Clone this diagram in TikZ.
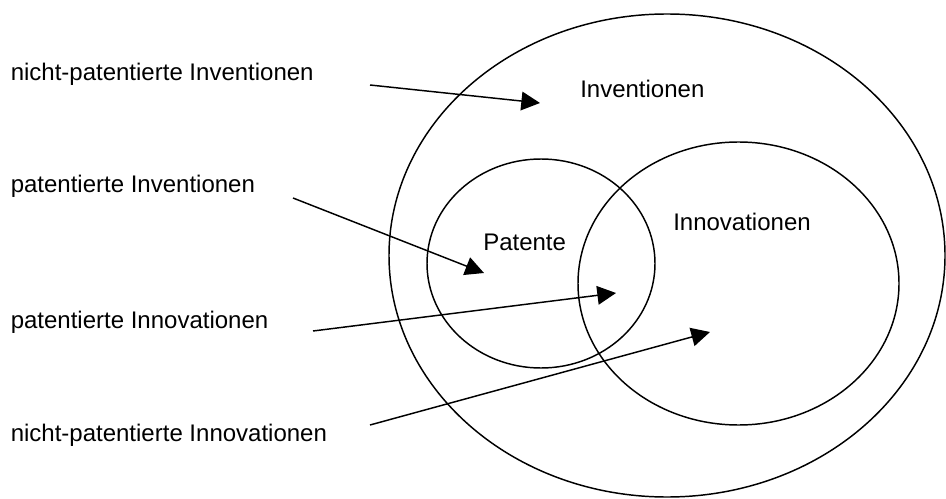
\documentclass[tikz,border=0pt]{standalone}
\usepackage{fontspec}
\setmainfont{Liberation Sans}
\usetikzlibrary{arrows.meta}

\tikzset{
  lbl/.style={anchor=base west,inner sep=0pt,font=\fontsize{18}{21}\selectfont},
  set/.style={line width=1.1pt},
  pfeil/.style={line width=1.1pt,-{Triangle[length=14pt,width=14pt]}}
}

\begin{document}
\begin{tikzpicture}[x=0.75pt,y=0.75pt,yscale=-1,xscale=1]
\useasboundingbox (0,0) rectangle (946,499);

%Shape: Ellipse [Inventionen]
\draw [set] (667,255.5) ellipse [x radius=278, y radius=241.5];
%Shape: Ellipse [Patente]
\draw [set] (541,263.5) ellipse [x radius=114, y radius=104.5];
%Shape: Ellipse [Innovationen]
\draw [set] (738.5,283.5) ellipse [x radius=160.5, y radius=141.5];

% Text Node
\node [lbl] (nichtpatinv) at (10.5,81) {nicht-patentierte Inventionen};
% Text Node
\node [lbl] (patinv) at (10.5,193) {patentierte Inventionen};
% Text Node
\node [lbl] (patinno) at (10.5,328) {patentierte Innovationen};
% Text Node
\node [lbl] (nichtpatinno) at (10.5,441) {nicht-patentierte Innovationen};
% Text Node
\node [lbl] (inventionen) at (580,98) {Inventionen};
% Text Node
\node [lbl] (patente) at (483,250) {Patente};
% Text Node
\node [lbl] (innovationen) at (673,230) {Innovationen};

%Straight Lines
\coordinate (a1) at (370,85);  \coordinate (b1) at (540,103);
\coordinate (a2) at (293,198); \coordinate (b2) at (484,273);
\coordinate (a3) at (313,331); \coordinate (b3) at (616,293);
\coordinate (a4) at (370,425); \coordinate (b4) at (710,332);
\draw [pfeil] (a1) -- (b1);
\draw [pfeil] (a2) -- (b2);
\draw [pfeil] (a3) -- (b3);
\draw [pfeil] (a4) -- (b4);

\end{tikzpicture}
\end{document}
